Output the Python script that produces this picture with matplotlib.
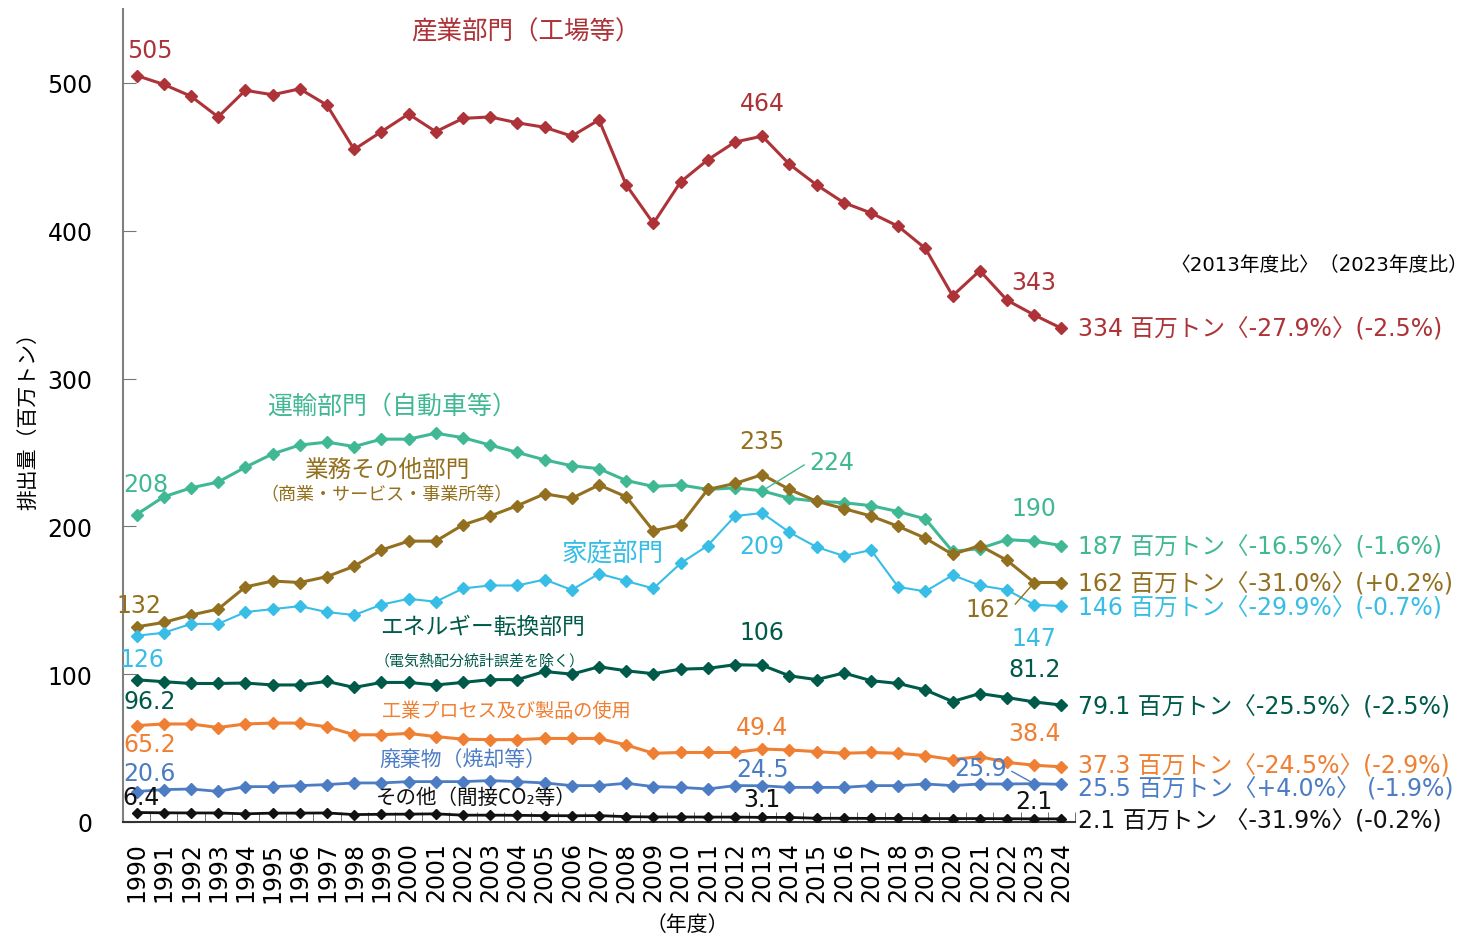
import numpy as np
import matplotlib
matplotlib.use("Agg")
import matplotlib.pyplot as plt

plt.rcParams['font.family'] = ['DejaVu Sans', 'Noto Sans CJK JP']

years = list(range(1990, 2025))

industry = [505, 499, 491, 477, 495, 492, 496, 485, 455, 467, 479, 467, 476, 477, 473, 470,
            464, 475, 431, 405, 433, 448, 460, 464, 445, 431, 419, 412, 403, 388, 356, 373,
            353, 343, 334]
transport = [208, 220, 226, 230, 240, 249, 255, 257, 254, 259, 259, 263, 260, 255, 250, 245,
             241, 239, 231, 227, 228, 225, 226, 224, 219, 217, 216, 214, 210, 205, 183, 185,
             191, 190, 187]
commercial = [132, 135, 140, 144, 159, 163, 162, 166, 173, 184, 190, 190, 201, 207, 214, 222,
              219, 228, 220, 197, 201, 225, 229, 235, 225, 217, 212, 207, 200, 192, 181, 187,
              177, 162, 162]
residential = [126, 128, 134, 134, 142, 144, 146, 142, 140, 147, 151, 149, 158, 160, 160, 164,
               157, 168, 163, 158, 175, 187, 207, 209, 196, 186, 180, 184, 159, 156, 167, 160,
               157, 147, 146]
energy = [96.2, 94.9, 93.7, 93.7, 94.0, 92.7, 92.7, 95.1, 91.0, 94.4, 94.4, 92.7, 94.4, 96.3,
          96.3, 101.8, 100.0, 105.0, 102.3, 100.3, 103.4, 103.9, 106.4, 106.0, 98.9, 96.3,
          100.8, 95.6, 93.7, 89.3, 81.5, 86.9, 84.2, 81.2, 79.1]
process = [65.2, 66.3, 66.3, 63.9, 66.3, 66.9, 66.9, 64.4, 59.0, 59.0, 59.9, 57.8, 56.0, 55.7,
           55.7, 56.5, 56.5, 56.5, 52.1, 46.5, 47.0, 47.0, 47.0, 49.4, 48.7, 47.6, 46.5, 47.0,
           46.5, 44.9, 42.2, 44.2, 40.3, 38.4, 37.3]
waste = [20.6, 21.9, 22.3, 20.7, 23.9, 23.9, 24.6, 25.3, 26.4, 26.4, 27.3, 27.3, 27.3, 28.0,
         27.3, 26.4, 24.6, 24.6, 26.2, 23.9, 23.4, 22.3, 24.6, 24.5, 23.4, 23.4, 23.4, 24.6,
         24.6, 25.7, 24.6, 25.7, 25.7, 25.9, 25.5]
other = [6.4, 6.2, 6.1, 6.1, 5.5, 6.0, 6.0, 6.1, 5.0, 5.2, 5.3, 5.5, 4.6, 4.6, 4.5, 4.3, 4.2,
         4.3, 3.6, 3.4, 3.4, 3.3, 3.3, 3.1, 3.1, 2.5, 2.5, 2.4, 2.4, 2.3, 2.3, 2.3, 2.2, 2.1, 2.1]

c_ind = '#ae3338'
c_tra = '#41b894'
c_com = '#93701f'
c_res = '#38bde6'
c_ene = '#005a4a'
c_pro = '#ef7f32'
c_was = '#4b7cc4'
c_oth = '#111111'

series = [
    (industry, c_ind, 2.2, 6.5, "334 百万トン〈-27.9%〉(-2.5%)", 0),
    (transport, c_tra, 2.2, 6.5, "187 百万トン〈-16.5%〉(-1.6%)", -1),
    (commercial, c_com, 2.2, 6.5, "162 百万トン〈-31.0%〉(+0.2%)", -1),
    (residential, c_res, 1.5, 6.5, "146 百万トン〈-29.9%〉(-0.7%)", -1),
    (energy, c_ene, 2.2, 6, "79.1 百万トン〈-25.5%〉(-2.5%)", -1),
    (process, c_pro, 2.2, 6, "37.3 百万トン〈-24.5%〉(-2.9%)", 1),
    (waste, c_was, 2.0, 6, "25.5 百万トン〈+4.0%〉 (-1.9%)", -3),
    (other, c_oth, 2.0, 5, "2.1 百万トン 〈-31.9%〉(-0.2%)", -1.5),
]

fig = plt.figure(figsize=(14.67, 9.37), dpi=100)
ax = fig.add_axes([0.0838, 0.1217, 0.6490, 0.8676])

for vals, col, lw, ms, endlabel, dy in series:
    ax.plot(years, vals, color=col, lw=lw, marker='D', markersize=ms, zorder=3)
    ax.annotate(endlabel, xy=(years[-1], vals[-1]), xytext=(12, dy), textcoords='offset points',
                ha='left', va='center', fontsize=17, color=col, annotation_clip=False)


def lab(vals, i, txt, dx, dy, col, line=False, ha='center'):
    kw = {}
    if line:
        kw['arrowprops'] = dict(arrowstyle='-', color=col, lw=1, shrinkA=2, shrinkB=3,
                                relpos=(0 if ha == 'left' else 1, 0.5))
    ax.annotate(txt, xy=(years[i], vals[i]), xytext=(dx, dy), textcoords='offset points',
                ha=ha, va='center', fontsize=17, color=col, **kw)


i13 = years.index(2013)
i23 = years.index(2023)

lab(industry, 0, "505", 9.4, 18.7, c_ind)
lab(industry, i13, "464", 0, 24, c_ind)
lab(industry, i23, "343", 0, 23.5, c_ind)
lab(transport, 0, "208", 7, 22, c_tra)
lab(transport, i13, "224", 34, 21, c_tra, line=True, ha='left')
lab(transport, i23, "190", 0, 23.5, c_tra)
lab(commercial, 0, "132", 2, 16, c_com)
lab(commercial, i13, "235", 0, 24, c_com)
lab(commercial, i23, "162", -17, -19.4, c_com, line=True, ha='right')
lab(residential, 0, "126", 3.6, -16.7, c_res)
lab(residential, i13, "209", 0, -23.7, c_res)
lab(residential, i23, "147", 0, -23.7, c_res)
lab(energy, 0, "96.2", 9.4, -15, c_ene)
lab(energy, i13, "106", 0, 24, c_ene)
lab(energy, i23, "81.2", 0, 24, c_ene)
lab(process, 0, "65.2", 9.4, -13.5, c_pro)
lab(process, i13, "49.4", 0, 16, c_pro)
lab(process, i23, "38.4", 0, 23.5, c_pro)
lab(waste, 0, "20.6", 9.4, 13, c_was)
lab(waste, i13, "24.5", 0, 12, c_was)
lab(waste, i23, "25.9", -20, 11, c_was, line=True, ha='right')
lab(other, 0, "6.4", 3.6, 11.5, c_oth)
lab(other, i13, "3.1", 0, 13, c_oth)
lab(other, i23, "2.1", 0, 13, c_oth)

# series names
ax.text(2004.3, 535, "産業部門（工場等）", color=c_ind, fontsize=18.4, ha='center', va='center')
ax.text(1999.4, 281.5, "運輸部門（自動車等）", color=c_tra, fontsize=18, ha='center', va='center')
ax.text(1999.2, 239, "業務その他部門", color=c_com, fontsize=17, ha='center', va='center')
ax.text(1999.2, 222, "（商業・サービス・事業所等）", color=c_com, fontsize=13, ha='center', va='center')
ax.text(2007.5, 181.3, "家庭部門", color=c_res, fontsize=18.4, ha='center', va='center')
ax.text(2002.7, 132, "エネルギー転換部門", color=c_ene, fontsize=16.4, ha='center', va='center')
ax.text(2002.6, 109.6, "（電気熱配分統計誤差を除く）", color=c_ene, fontsize=10.8, ha='center', va='center')
ax.text(2003.6, 75.1, "工業プロセス及び製品の使用", color=c_pro, fontsize=13.8, ha='center', va='center')
ax.text(2002.0, 42, "廃棄物（焼却等）", color=c_was, fontsize=15, ha='center', va='center')
ax.text(2002.5, 17, "その他（間接CO₂等）", color=c_oth, fontsize=14.8, ha='center', va='center',
        family=['Noto Sans CJK JP', 'DejaVu Sans'])
ax.text(2038.95, 377, "〈2013年度比〉（2023年度比）", color='black', fontsize=14.2,
        ha='right', va='center', clip_on=False)

ax.set_xlim(1989.5, 2024.5)
ax.set_ylim(0, 550)
ax.set_xticks(years)
ax.set_xticklabels([str(y) for y in years], rotation=90, fontsize=17)
ax.set_xticks(np.arange(1989.5, 2025, 1), minor=True)
ax.tick_params(axis='x', which='major', length=0, pad=14)
ax.tick_params(axis='x', which='minor', direction='in', length=7, color='#555555')
ax.set_yticks([0, 100, 200, 300, 400, 500])
ax.tick_params(axis='y', direction='in', length=9, labelsize=17, pad=22, color='#777777')
for s in ['top', 'right']:
    ax.spines[s].set_visible(False)
ax.spines['left'].set_color('#808080')
ax.spines['bottom'].set_color('#333333')
ax.spines['bottom'].set_linewidth(1.5)
ax.spines['left'].set_linewidth(1.5)

ax.set_ylabel("排出量（百万トン）", fontsize=15)
ax.yaxis.set_label_coords(-0.089, 0.5)
ax.set_xlabel("（年度）", fontsize=15)
ax.xaxis.set_label_coords(0.593, -0.113)

fig.savefig("out.png", dpi=100)
